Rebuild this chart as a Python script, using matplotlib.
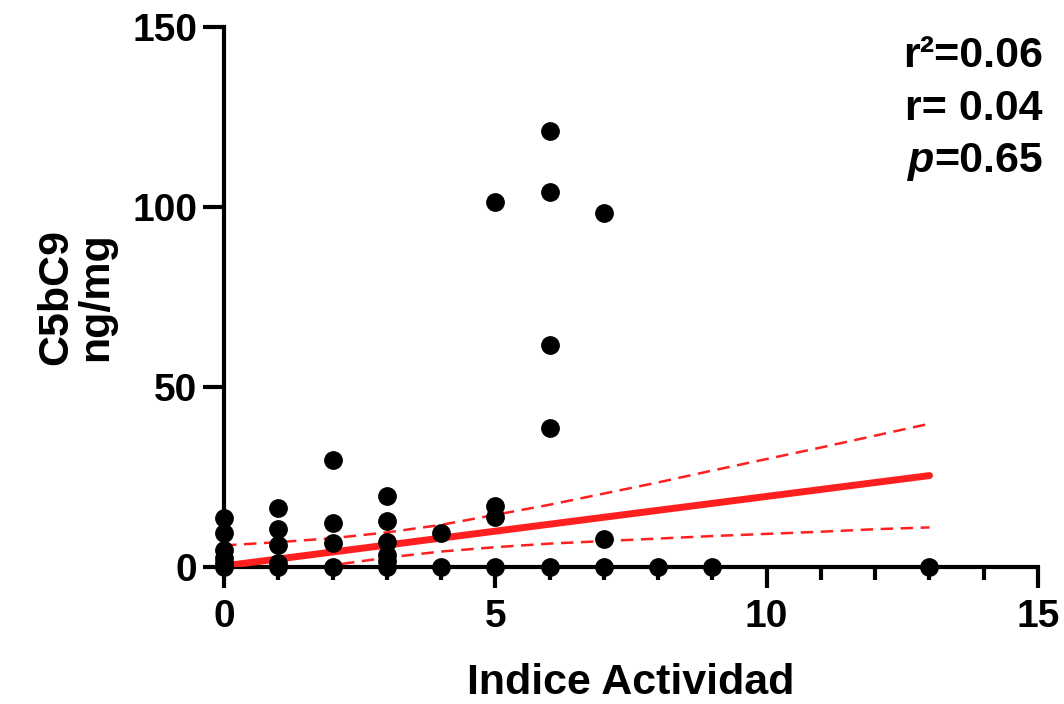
import matplotlib
matplotlib.use("Agg")
import matplotlib.pyplot as plt
from matplotlib.ticker import MultipleLocator

plt.rcParams['font.family'] = ['Liberation Sans', 'DejaVu Sans']
plt.rcParams['font.weight'] = 'bold'

# Data points (Indice Actividad vs C5bC9 ng/mg)
x_vals = [0, 0, 0, 0, 0, 0,
          1, 1, 1, 1, 1,
          2, 2, 2, 2,
          3, 3, 3, 3, 3, 3,
          4, 4,
          5, 5, 5, 5,
          6, 6, 6, 6, 6,
          7, 7, 7,
          8, 9, 13]
y_vals = [13.6, 9.4, 4.7, 2.5, 1.0, 0.0,
          16.4, 10.6, 6.1, 1.0, 0.0,
          29.7, 12.2, 6.6, 0.0,
          19.7, 12.8, 7.0, 3.3, 1.8, 0.0,
          9.5, 0.0,
          101.5, 16.9, 14.0, 0.0,
          121.2, 104.2, 61.6, 38.6, 0.0,
          98.4, 7.8, 0.0,
          0.0, 0.0, 0.0]

# Regression line and 95% confidence band
fit_x = [0, 13]
fit_y = [0.3, 25.4]
ci_x = [0, 1, 2, 3, 4, 5, 6, 7, 8, 9, 10, 11, 12, 13]
ci_upper = [6.0, 6.9, 8.0, 9.6, 11.7, 14.5, 17.3, 20.4, 23.5, 26.8, 30.0, 33.2, 36.5, 39.8]
ci_lower = [-5.1, -2.3, 0.5, 2.6, 4.3, 5.5, 6.5, 7.2, 7.9, 8.6, 9.2, 9.8, 10.5, 11.0]

x_ticks = [0, 5, 10, 15]
y_ticks = [0, 50, 100, 150]
stats_lines = ["r\u00b2=0.06", "r= 0.04", "=0.65"]

fig = plt.figure(figsize=(10.64, 7.04), dpi=100)
ax = fig.add_axes([0.2105, 0.1946, 0.9756 - 0.2105, 0.9616 - 0.1946])

red = '#ff1f1f'
ax.plot(ci_x, ci_upper, color=red, lw=1.8, ls=(0, (5, 3)), zorder=2)
ax.plot(ci_x, ci_lower, color=red, lw=1.8, ls=(0, (5, 3)), zorder=2)
ax.plot(fit_x, fit_y, color=red, lw=5.0, solid_capstyle='round', zorder=3)
ax.plot(x_vals, y_vals, 'o', color='black', ms=12.5, zorder=4, clip_on=False)

ax.set_xlim(0, 15)
ax.set_ylim(0, 150)
ax.set_xticks(x_ticks)
ax.set_yticks(y_ticks)
ax.xaxis.set_minor_locator(MultipleLocator(1))

for s in ['top', 'right']:
    ax.spines[s].set_visible(False)
for s in ['left', 'bottom']:
    ax.spines[s].set_linewidth(3)
    ax.spines[s].set_capstyle('projecting')

ax.tick_params(axis='both', which='major', length=15, width=3, labelsize=28)
ax.tick_params(axis='x', which='major', pad=8)
ax.tick_params(axis='y', which='major', pad=4)
ax.tick_params(axis='x', which='minor', length=9, width=3)
for lab in ax.get_xticklabels() + ax.get_yticklabels():
    lab.set_fontweight('bold')

ax.set_xlabel("Indice Actividad", fontsize=31, fontweight='bold', labelpad=20)
ax.set_ylabel("C5bC9\nng/mg", fontsize=31, fontweight='bold', labelpad=12, linespacing=1.0)

# stats annotation
fs = 31
ax.text(1.006, 0.926, stats_lines[0], transform=ax.transAxes, ha='right', va='baseline',
        fontsize=fs, fontweight='bold')
ax.text(1.006, 0.828, stats_lines[1], transform=ax.transAxes, ha='right', va='baseline',
        fontsize=fs, fontweight='bold')
t3 = ax.text(1.006, 0.731, stats_lines[2], transform=ax.transAxes, ha='right', va='baseline',
             fontsize=fs, fontweight='bold')
ax.annotate("p", xy=(0, 0), xycoords=t3, ha='right', va='bottom',
            fontsize=fs, fontweight='bold', fontstyle='italic')

fig.savefig("out.png", dpi=100)
